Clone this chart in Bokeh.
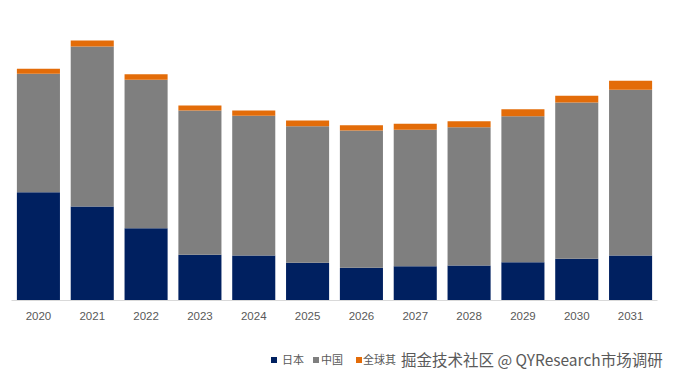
from bokeh.plotting import figure
from bokeh.models import Div
from bokeh.layouts import column
from bokeh.embed import file_html
from bokeh.resources import INLINE

years = ["2020", "2021", "2022", "2023", "2024", "2025", "2026", "2027", "2028", "2029", "2030", "2031"]
japan = [108.3, 94, 72.3, 45.7, 45, 37.7, 32.7, 34.3, 35, 38.3, 41.7, 45]
china = [118.4, 160, 148.4, 144.3, 139.7, 136.6, 137.3, 136.4, 138.3, 146, 156.3, 165.7]
other = [5, 6, 5.6, 5, 5.3, 5.7, 5.3, 6, 6, 7, 6.7, 9]
series = ["日本", "中国", "全球其他"]
legend_shown = ["日本", "中国", "全球其"]  # the reference's watermark hides the rest of the last label
colors = ["#002060", "#7F7F7F", "#E36C09"]
watermark = "掘金技术社区 @ QYResearch市场调研"

data = {"years": years, "日本": japan, "中国": china, "全球其他": other}

p = figure(x_range=years, y_range=(0, 282), width=673, height=335,
           output_backend="svg", toolbar_location=None,
           min_border_left=11, min_border_right=16, min_border_top=18, min_border_bottom=35)
p.vbar_stack(series, x="years", width=0.8, color=colors, source=data, line_width=0)

p.outline_line_color = None
p.background_fill_color = "white"
p.border_fill_color = "white"
p.xgrid.grid_line_color = None
p.ygrid.grid_line_color = None
p.yaxis.visible = False
p.xaxis.axis_line_color = "#D9D9D9"
p.xaxis.major_tick_line_color = None
p.xaxis.minor_tick_line_color = None
p.xaxis.major_tick_out = 0
p.xaxis.major_label_standoff = 11
p.xaxis.major_label_text_font = "Liberation Sans"
p.xaxis.major_label_text_font_size = "11.5px"
p.xaxis.major_label_text_color = "#595959"
p.x_range.range_padding = 0

sq_x = [271, 313, 356]
tx_x = [282, 321, 363]
parts = []
for name, c, sx, tx in zip(legend_shown, colors, sq_x, tx_x):
    parts.append(f'<div style="position:absolute;left:{sx}px;top:22px;width:6px;height:6px;background:{c};"></div>')
    parts.append(f'<div style="position:absolute;left:{tx}px;top:19px;font-size:11px;line-height:11px;'
                 f'color:#595959;font-family:\'Noto Sans CJK SC\';white-space:nowrap;">{name}</div>')
parts.append(f'<div style="position:absolute;left:401px;top:16px;font-size:15.5px;line-height:17px;'
             f'color:#5A5A5A;background:white;font-family:\'Noto Sans CJK SC\';white-space:nowrap;">{watermark}</div>')
html = '<div style="position:relative;width:673px;height:36px;">' + "".join(parts) + "</div>"
leg = Div(text=html, width=673, height=36, margin=0)

layout = column(p, leg, spacing=0)
open("out.html", "w").write(file_html(layout, INLINE))
